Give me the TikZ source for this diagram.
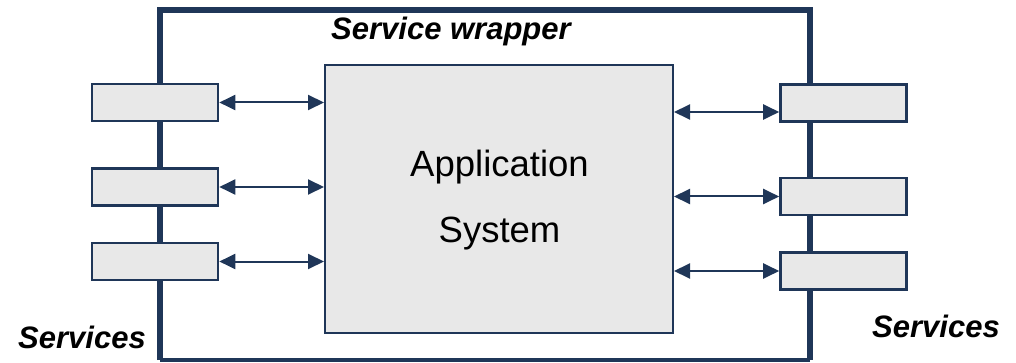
\documentclass[tikz,border=0pt]{standalone}
\usepackage{fontspec}
\setmainfont{Liberation Sans}
\usetikzlibrary{arrows.meta}
\definecolor{navy}{RGB}{31,54,88}
\definecolor{boxgrey}{RGB}{232,232,232}
\tikzset{
  svcbox/.style={draw=navy, line width=2.6pt, fill=boxgrey, minimum width=126pt, minimum height=37pt, inner sep=0pt},
  appbox/.style={draw=navy, line width=2pt, fill=boxgrey, minimum width=348pt, minimum height=268pt, inner sep=0pt},
  frame/.style={draw=navy, line width=6pt},
  link/.style={draw=navy, line width=2pt, {Triangle[length=16pt,width=15pt]}-{Triangle[length=16pt,width=15pt]}},
  lbl/.style={font=\fontsize{31pt}{31pt}\selectfont\bfseries\itshape, anchor=base, inner sep=0pt},
}
\begin{document}
\begin{tikzpicture}[x=1pt,y=-1pt]
\useasboundingbox (0,0) rectangle (1016,363);
% frame
\coordinate (ftl) at (160,10);
\coordinate (fbr) at (810,360);
\draw[frame] (ftl |- fbr) -- (ftl) -- (fbr |- ftl) -- (fbr);
\draw[draw=navy, line width=4pt] (ftl |- fbr) -- (fbr);
% application
\node[appbox] (app) at (499,199) {};
\node[font=\fontsize{36.5pt}{36.5pt}\selectfont, anchor=base, inner sep=0pt] (t1) at (499.5,177) {Application};
\node[font=\fontsize{36.5pt}{36.5pt}\selectfont, anchor=base, inner sep=0pt] (t2) at (499.5,243) {System};
% left service boxes
\node[svcbox] (l1) at (155,102.5) {};
\node[svcbox] (l2) at (155,187) {};
\node[svcbox] (l3) at (155,261.5) {};
% right service boxes
\node[svcbox] (r1) at (843.5,103) {};
\node[svcbox] (r2) at (843.5,196.5) {};
\node[svcbox] (r3) at (843.5,271) {};
% arrows
\draw[link] (l1.east) -- (app.west |- l1.east);
\draw[link] (l2.east) -- (app.west |- l2.east);
\draw[link] (l3.east) -- (app.west |- l3.east);
\coordinate (ry1) at (0,112);
\draw[link] (app.east |- ry1) -- (r1.west |- ry1);
\draw[link] (app.east |- r2.west) -- (r2.west);
\draw[link] (app.east |- r3.west) -- (r3.west);
% labels
\node[lbl] (sw) at (451,40) {Service wrapper};
\node[lbl] (sl) at (82,348) {Services};
\node[lbl] (sr) at (936,337) {Services};
\end{tikzpicture}
\end{document}
